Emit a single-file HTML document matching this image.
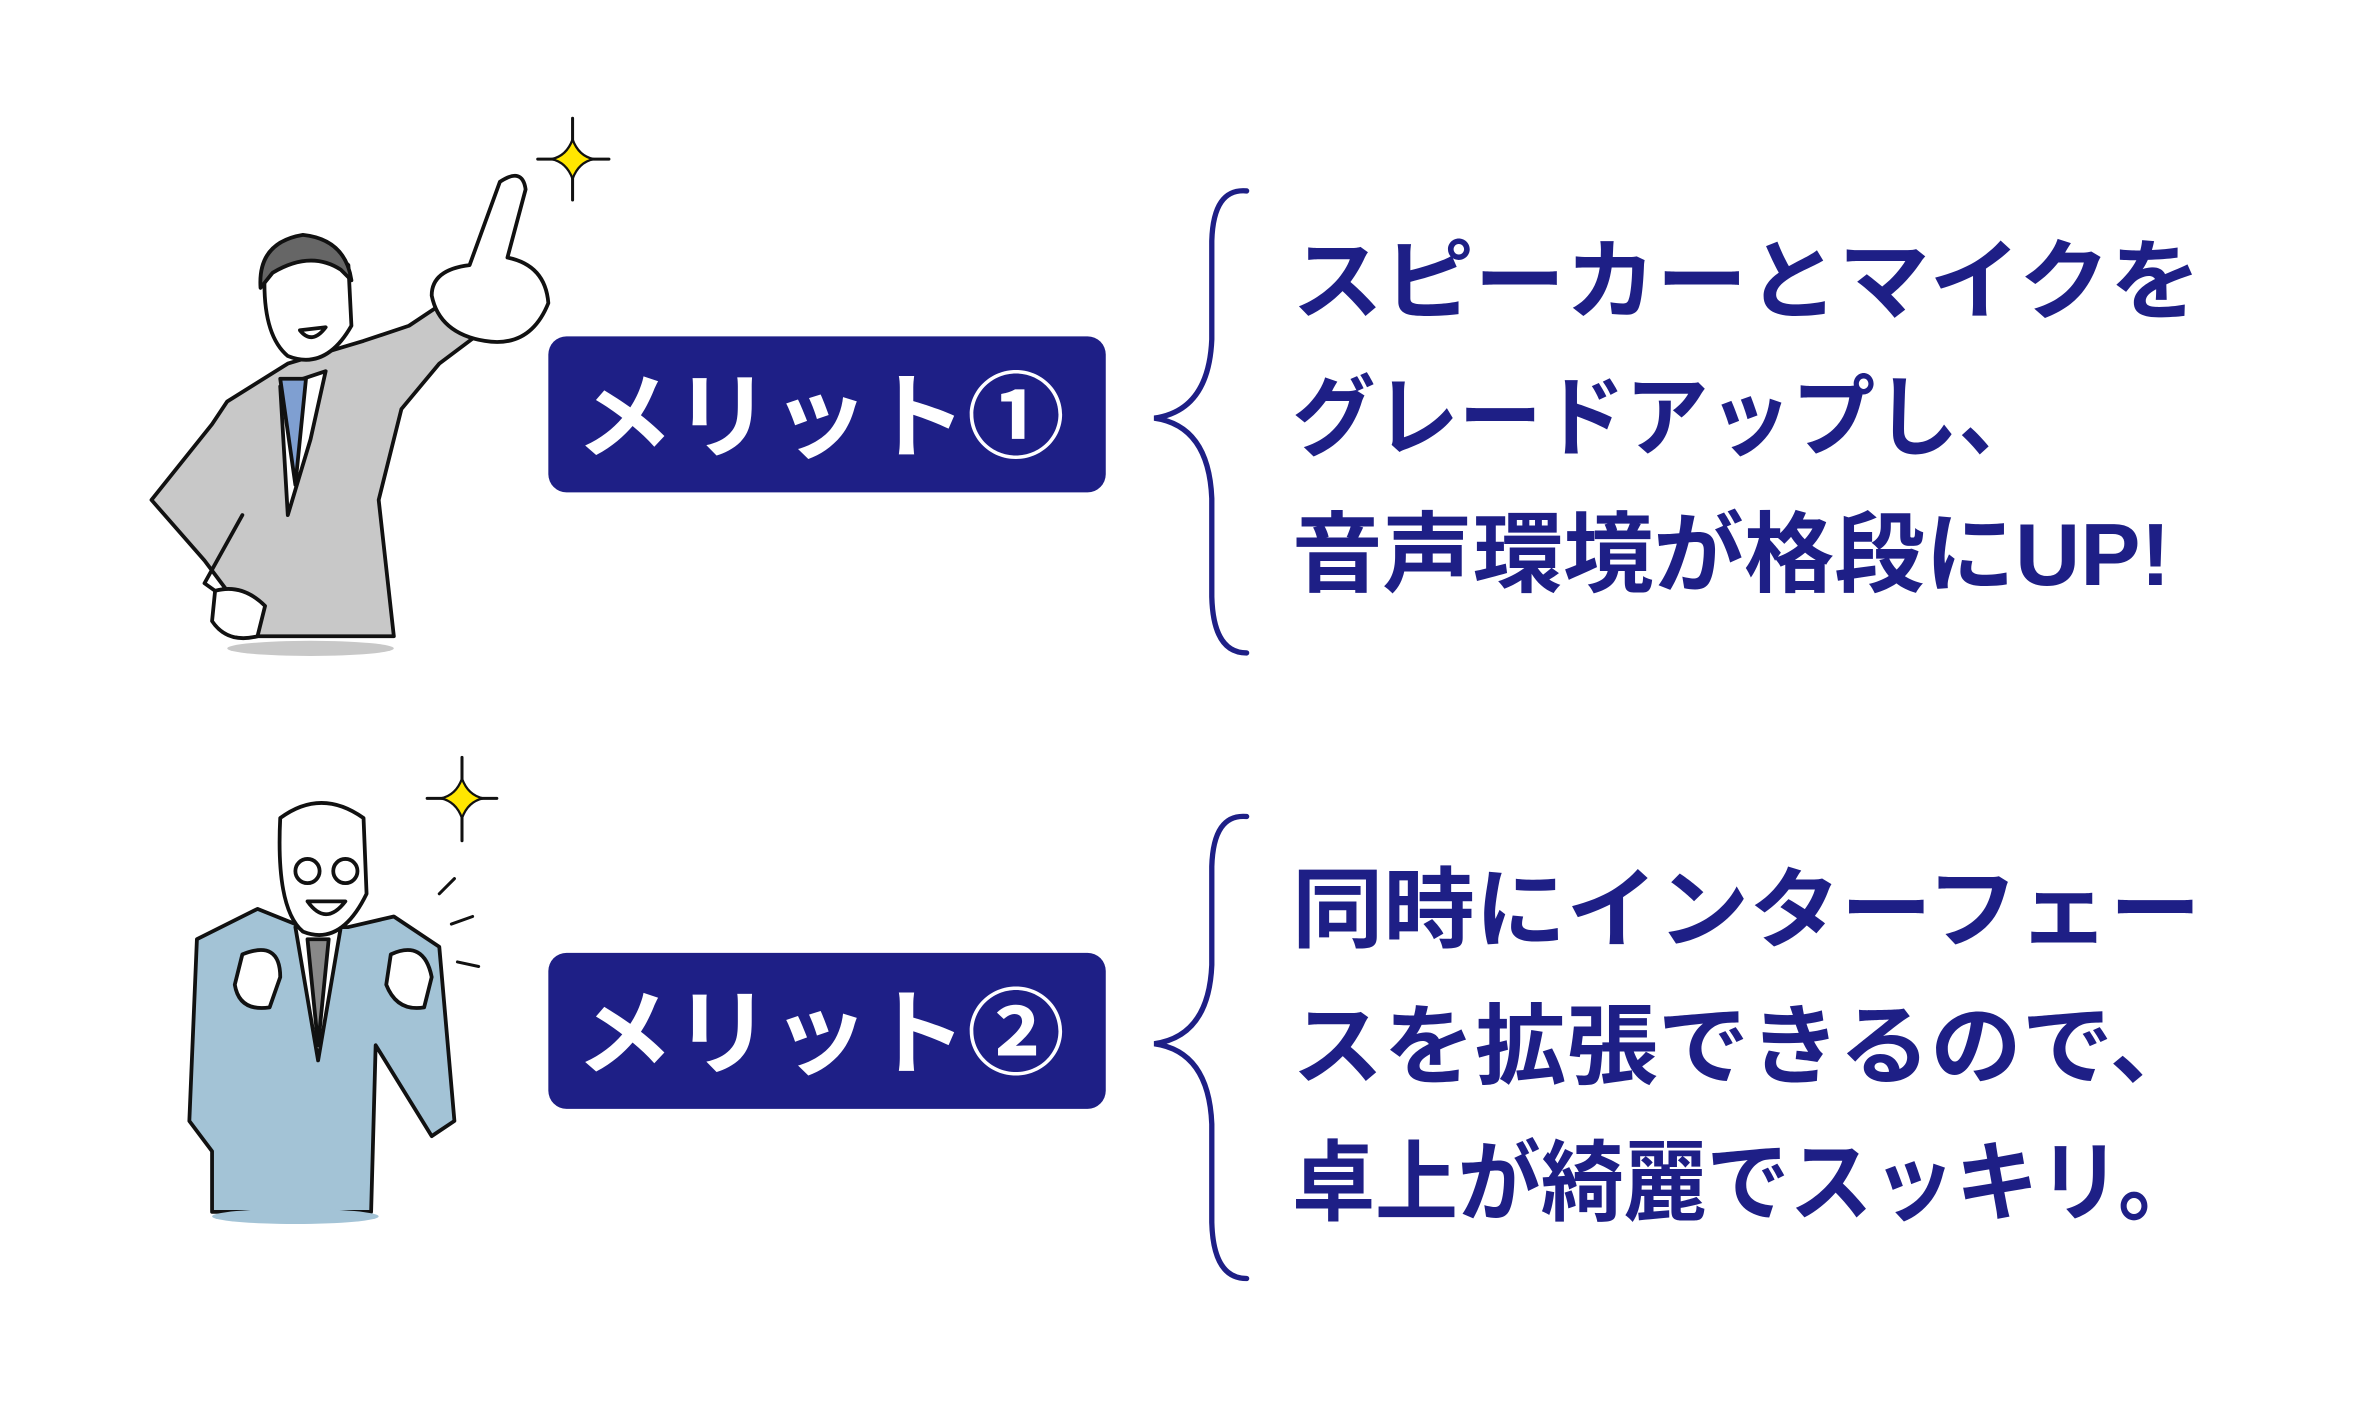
<!DOCTYPE html>
<html><head><meta charset="utf-8"><style>
html,body{margin:0;padding:0;background:#fff;}
svg{display:block;}
text{font-family:"Liberation Sans","Noto Sans CJK JP",sans-serif;font-weight:bold;}
</style></head><body>
<svg width="2363" height="1424" viewBox="0 0 1560 940" xmlns="http://www.w3.org/2000/svg">
<rect width="1560" height="940" fill="#fff"/>
<g stroke="#111" stroke-width="2.5" stroke-linejoin="round" stroke-linecap="round">
 <path d="M150 265 L190 240 L240 225 L270 215 L300 195 L330 210 L290 240 L265 270 L250 330 L260 420 L155 420 L150 390 L135 370 L100 330 L140 280 Z" fill="#c8c8c8"/>
 <path d="M160 340 L135 385 L170 410" fill="none"/>
 <path d="M185 255 L190 340 L205 290 L215 245 Z" fill="#fff"/>
 <path d="M185 250 L195 320 L202 250 Z" fill="#7f9fd1"/>
 <path d="M175 175 Q205 150 230 175 L232 215 Q215 245 190 235 Q172 220 175 175 Z" fill="#fff"/>
 <path d="M172 190 Q170 160 200 155 Q228 158 232 185 L225 178 Q205 165 180 180 Z" fill="#666"/>
 <path d="M198 218 Q206 228 215 216 Z" fill="#fff"/>
 <path d="M330 120 Q345 110 347 125 L335 170 Q360 175 362 200 Q350 230 320 225 Q290 220 285 195 Q285 178 310 175 Z" fill="#fff"/>
 <path d="M142 390 Q160 385 175 400 L170 420 Q150 425 140 410 Z" fill="#fff"/>
 <path d="M378 78 L378 132 M355 105 L402 105" stroke-width="2"/>
 <path d="M378 92 Q382 103 392 105 Q382 107 378 118 Q374 107 364 105 Q374 103 378 92 Z" fill="#ffe600" stroke-width="1.5"/>
</g>
<ellipse cx="205" cy="428" rx="55" ry="5" fill="#c8c8c8"/>
<g stroke="#111" stroke-width="2.5" stroke-linejoin="round" stroke-linecap="round">
 <path d="M130 620 L170 600 L200 612 L230 612 L260 605 L290 625 L300 740 L285 750 L248 690 L245 800 L140 800 L140 760 L125 740 Z" fill="#a3c3d6"/>
 <path d="M195 612 L210 700 L225 612 Z" fill="#fff"/>
 <path d="M203 620 L210 690 L217 620 Z" fill="#888"/>
 <path d="M185 540 Q212 520 240 540 L242 590 Q225 625 200 615 Q182 600 185 540 Z" fill="#fff"/>
 <circle cx="203" cy="575" r="8" fill="none"/><circle cx="228" cy="575" r="8" fill="none"/>
 <path d="M203 595 Q215 612 228 595 Z" fill="#fff"/>
 <path d="M160 630 Q185 620 185 645 L178 665 Q158 668 155 650 Z" fill="#fff"/>
 <path d="M258 630 Q280 620 285 645 L280 665 Q262 668 255 650 Z" fill="#fff"/>
 <path d="M290 590 L300 580 M298 610 L312 605 M302 635 L316 638" stroke-width="2"/>
 <path d="M305 500 L305 555 M282 527 L328 527" stroke-width="2"/>
 <path d="M305 514 Q309 525 319 527 Q309 529 305 540 Q301 529 291 527 Q301 525 305 514 Z" fill="#ffe600" stroke-width="1.5"/>
</g>
<ellipse cx="195" cy="803" rx="55" ry="5" fill="#a3c3d6"/>
<rect x="362" y="222" width="368" height="103" rx="12" fill="#1e1f86"/>
<rect x="362" y="629" width="368" height="103" rx="12" fill="#1e1f86"/>
<text x="380" y="297" font-size="62" fill="#fff" textLength="323" lengthAdjust="spacingAndGlyphs">メリット①</text>
<text x="380" y="704" font-size="62" fill="#fff" textLength="323" lengthAdjust="spacingAndGlyphs">メリット②</text>
<g fill="none" stroke="#1e1f86" stroke-width="3.5" stroke-linecap="round">
 <path d="M823 126 Q801 124 800 159 L800 224 Q798 271 762 276 Q798 281 800 329 L800 394 Q801 431 823 431"/>
 <path d="M823 539 Q801 537 800 572 L800 637 Q798 684 762 689 Q798 694 800 742 L800 807 Q801 844 823 844"/>
</g>
<g fill="#1e1f86" font-size="58">
 <text x="853" y="206" textLength="600" lengthAdjust="spacingAndGlyphs">スピーカーとマイクを</text>
 <text x="853" y="296" textLength="495" lengthAdjust="spacingAndGlyphs">グレードアップし、</text>
 <text x="853" y="386" textLength="580" lengthAdjust="spacingAndGlyphs">音声環境が格段にUP!</text>
 <text x="853" y="621" textLength="600" lengthAdjust="spacingAndGlyphs">同時にインターフェー</text>
 <text x="853" y="711" textLength="600" lengthAdjust="spacingAndGlyphs">スを拡張できるので、</text>
 <text x="853" y="801" textLength="600" lengthAdjust="spacingAndGlyphs">卓上が綺麗でスッキリ。</text>
</g>
</svg>
</body></html>
